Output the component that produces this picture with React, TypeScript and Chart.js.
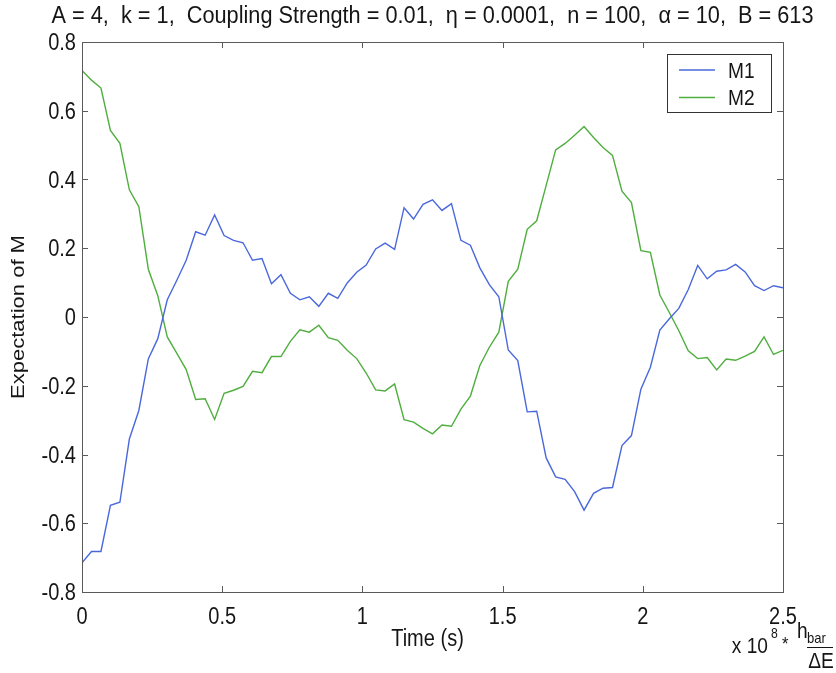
import React, { useEffect, useRef } from "react";
import { Chart, registerables } from "chart.js";

Chart.register(...registerables);

const TIME = [
  0, 0.0338, 0.0676, 0.1014, 0.1351, 0.1689, 0.2027, 0.2365, 0.2703, 0.3041,
  0.3378, 0.3716, 0.4054, 0.4392, 0.473, 0.5068, 0.5405, 0.5743, 0.6081, 0.6419,
  0.6757, 0.7095, 0.7432, 0.777, 0.8108, 0.8446, 0.8784, 0.9122, 0.9459, 0.9797,
  1.0135, 1.0473, 1.0811, 1.1149, 1.1486, 1.1824, 1.2162, 1.25, 1.2838, 1.3176,
  1.3514, 1.3851, 1.4189, 1.4527, 1.4865, 1.5203, 1.5541, 1.5878, 1.6216, 1.6554,
  1.6892, 1.723, 1.7568, 1.7905, 1.8243, 1.8581, 1.8919, 1.9257, 1.9595, 1.9932,
  2.027, 2.0608, 2.0946, 2.1284, 2.1622, 2.1959, 2.2297, 2.2635, 2.2973, 2.3311,
  2.3649, 2.3986, 2.4324, 2.4662, 2.5,
];

const M1 = [
  -0.715, -0.682, -0.682, -0.548, -0.539, -0.355, -0.272, -0.122, -0.063, 0.05,
  0.106, 0.165, 0.248, 0.238, 0.297, 0.237, 0.223, 0.216, 0.165, 0.17,
  0.097, 0.123, 0.069, 0.05, 0.059, 0.031, 0.069, 0.054, 0.099, 0.13,
  0.151, 0.198, 0.215, 0.197, 0.318, 0.285, 0.328, 0.341, 0.31, 0.33,
  0.223, 0.209, 0.143, 0.094, 0.059, -0.096, -0.127, -0.276, -0.274, -0.41,
  -0.465, -0.472, -0.508, -0.562, -0.513, -0.498, -0.496, -0.374, -0.345, -0.21,
  -0.146, -0.038, -0.005, 0.025, 0.08, 0.15, 0.111, 0.133, 0.137, 0.153,
  0.131, 0.091, 0.077, 0.091, 0.085,
];

const M2 = [
  0.717, 0.689, 0.666, 0.543, 0.505, 0.37, 0.321, 0.139, 0.062, -0.058,
  -0.105, -0.153, -0.24, -0.238, -0.298, -0.222, -0.213, -0.202, -0.158, -0.162,
  -0.115, -0.115, -0.071, -0.037, -0.044, -0.024, -0.06, -0.068, -0.097, -0.121,
  -0.163, -0.212, -0.215, -0.195, -0.299, -0.306, -0.324, -0.34, -0.314, -0.318,
  -0.268, -0.23, -0.141, -0.088, -0.044, 0.104, 0.139, 0.255, 0.28, 0.383,
  0.486, 0.505, 0.529, 0.554, 0.522, 0.493, 0.47, 0.366, 0.333, 0.193,
  0.188, 0.064, 0.013, -0.04, -0.098, -0.121, -0.118, -0.154, -0.122, -0.126,
  -0.114, -0.1, -0.058, -0.109, -0.097,
];

const SERIES_LABELS = ["M1", "M2"];
const SERIES_COLORS = ["#4a68dc", "#4fae3e"];
const X_TICKS = [0, 0.5, 1, 1.5, 2, 2.5];
const X_TICK_LABELS = ["0", "0.5", "1", "1.5", "2", "2.5"];
const Y_TICKS = [-0.8, -0.6, -0.4, -0.2, 0, 0.2, 0.4, 0.6, 0.8];
const Y_TICK_LABELS = ["-0.8", "-0.6", "-0.4", "-0.2", "0", "0.2", "0.4", "0.6", "0.8"];

const TITLE =
  "A = 4,  k = 1,  Coupling Strength = 0.01,  \u03b7 = 0.0001,  n = 100,  \u03b1 = 10,  B = 613";
const X_LABEL = "Time (s)";
const Y_LABEL = "Expectation of M";

const FONT = '"Liberation Sans", Arial, Helvetica, sans-serif';
const TEXT_COLOR = "#151515";
const FRAME_COLOR = "#5a5a5a";

function drawText(
  ctx: CanvasRenderingContext2D,
  text: string,
  x: number,
  y: number,
  size: number,
  align: CanvasTextAlign,
  baseline: CanvasTextBaseline,
  sx = 0.87
) {
  ctx.save();
  ctx.translate(x, y);
  ctx.scale(sx, 1);
  ctx.font = `${size}px ${FONT}`;
  ctx.fillStyle = TEXT_COLOR;
  ctx.textAlign = align;
  ctx.textBaseline = baseline;
  ctx.fillText(text, 0, 0);
  ctx.restore();
}

const matlabPlugin = {
  id: "matlabDecor",
  afterDatasetsDraw(chart: any) {
    const ctx: CanvasRenderingContext2D = chart.ctx;
    const { left, right, top, bottom } = chart.chartArea;
    const xs = chart.scales.x;
    const ys = chart.scales.y;
    ctx.save();

    // frame
    ctx.strokeStyle = FRAME_COLOR;
    ctx.lineWidth = 1;
    ctx.strokeRect(Math.round(left) + 0.5, Math.round(top) + 0.5, Math.round(right - left), Math.round(bottom - top));

    // ticks inward on all sides
    const tl = 6;
    ctx.beginPath();
    X_TICKS.forEach((v) => {
      const px = Math.round(xs.getPixelForValue(v)) + 0.5;
      ctx.moveTo(px, bottom);
      ctx.lineTo(px, bottom - tl);
      ctx.moveTo(px, top);
      ctx.lineTo(px, top + tl);
    });
    Y_TICKS.forEach((v) => {
      const py = Math.round(ys.getPixelForValue(v)) + 0.5;
      ctx.moveTo(left, py);
      ctx.lineTo(left + tl, py);
      ctx.moveTo(right, py);
      ctx.lineTo(right - tl, py);
    });
    ctx.stroke();

    // tick labels
    X_TICKS.forEach((v, i) => {
      const px = xs.getPixelForValue(v);
      drawText(ctx, X_TICK_LABELS[i], px, 624, 23, "center", "alphabetic");
    });
    Y_TICKS.forEach((v, i) => {
      const py = ys.getPixelForValue(v);
      drawText(ctx, Y_TICK_LABELS[i], left - 6, py + 8, 23, "right", "alphabetic");
    });

    // title
    ctx.font = `23px ${FONT}`;
    const tw = ctx.measureText(TITLE).width;
    const tsx = Math.min(1, 762 / tw);
    drawText(ctx, TITLE, (left + right) / 2, 23, 23, "center", "alphabetic", tsx);

    // x label
    drawText(ctx, X_LABEL, (left + right) / 2 - 5, 646, 23, "center", "alphabetic");

    // y label (rotated)
    ctx.save();
    ctx.translate(19, (top + bottom) / 2);
    ctx.scale(0.87, 1);
    ctx.rotate(-Math.PI / 2);
    ctx.font = `22px ${FONT}`;
    ctx.fillStyle = TEXT_COLOR;
    ctx.textAlign = "center";
    ctx.textBaseline = "middle";
    ctx.fillText(Y_LABEL, 0, 0);
    ctx.restore();

    // multiplier  x 10^8 * h_bar / ΔE
    drawText(ctx, "x 10", 768, 653, 22, "right", "alphabetic");
    drawText(ctx, "8", 771, 638, 14, "left", "alphabetic");
    drawText(ctx, "*", 782, 650, 19, "left", "alphabetic");
    drawText(ctx, "h", 797, 638, 22, "left", "alphabetic");
    drawText(ctx, "bar", 807, 643, 15, "left", "alphabetic");
    ctx.strokeStyle = TEXT_COLOR;
    ctx.lineWidth = 1;
    ctx.beginPath();
    ctx.moveTo(807, 647.5);
    ctx.lineTo(833, 647.5);
    ctx.stroke();
    drawText(ctx, "\u0394E", 821, 668, 22, "center", "alphabetic");

    // legend
    const lx = 667, ly = 54, lw = 104, lh = 58;
    ctx.fillStyle = "#ffffff";
    ctx.fillRect(lx, ly, lw, lh);
    ctx.strokeStyle = "#333333";
    ctx.lineWidth = 1;
    ctx.strokeRect(lx + 0.5, ly + 0.5, lw, lh);
    const rows = [70, 97.5];
    chart.data.datasets.forEach((ds: any, i: number) => {
      ctx.strokeStyle = ds.borderColor;
      ctx.lineWidth = 1.3;
      ctx.beginPath();
      ctx.moveTo(679, rows[i]);
      ctx.lineTo(715, rows[i]);
      ctx.stroke();
      drawText(ctx, ds.label, 728, rows[i] + 7.5, 22, "left", "alphabetic", 0.87);
    });

    ctx.restore();
  },
};

export default function App() {
  const canvasRef = useRef<HTMLCanvasElement | null>(null);

  useEffect(() => {
    document.body.style.margin = "0";
    const canvas = canvasRef.current;
    if (!canvas) return;
    const series = [M1, M2];
    const chart = new Chart(canvas, {
      type: "line",
      data: {
        datasets: series.map((vals, k) => ({
          label: SERIES_LABELS[k],
          data: TIME.map((t, i) => ({ x: t, y: vals[i] })),
          borderColor: SERIES_COLORS[k],
          backgroundColor: SERIES_COLORS[k],
          borderWidth: 1.4,
          pointRadius: 0,
          tension: 0,
          fill: false,
        })),
      },
      options: {
        responsive: false,
        animation: false,
        devicePixelRatio: 1,
        layout: { padding: { left: 82, right: 53, top: 42, bottom: 81 } },
        plugins: {
          legend: { display: false },
          title: { display: false },
          tooltip: { enabled: false },
        },
        scales: {
          x: {
            type: "linear",
            display: false,
            min: 0,
            max: 2.5,
            ticks: { stepSize: 0.5 },
          },
          y: {
            type: "linear",
            display: false,
            min: -0.8,
            max: 0.8,
            ticks: { stepSize: 0.2 },
          },
        },
      },
      plugins: [matlabPlugin],
    });
    return () => chart.destroy();
  }, []);

  return (
    <div style={{ width: 836, height: 673, background: "#ffffff" }}>
      <canvas ref={canvasRef} width={836} height={673} style={{ display: "block" }} />
    </div>
  );
}
